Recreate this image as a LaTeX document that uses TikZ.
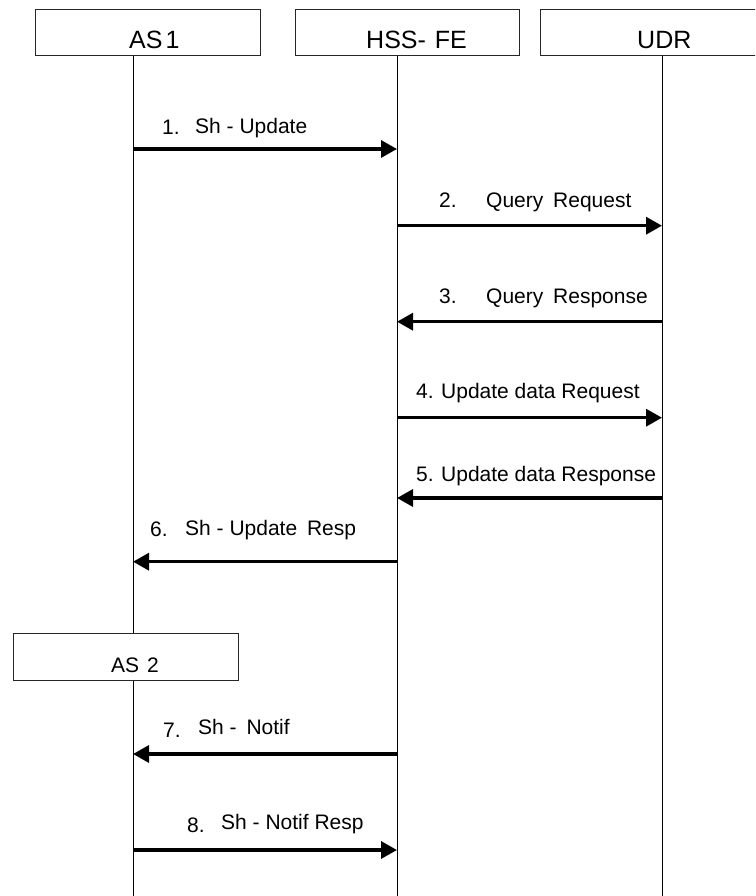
\documentclass[tikz,border=0pt]{standalone}
\usepackage{fontspec}
\setmainfont{Liberation Sans}
\usetikzlibrary{arrows.meta}
\begin{document}
\begin{tikzpicture}[x=1pt,y=-1pt,
  actor/.style={draw=black!85, line width=0.9pt, fill=white, minimum width=#1,
    minimum height=45.7pt, inner sep=0pt, anchor=north west},
  title/.style={font=\fontsize{25}{28}\selectfont, anchor=base west, inner sep=0pt},
  title2/.style={font=\fontsize{21}{24}\selectfont, anchor=base west, inner sep=0pt},
  lbl/.style={font=\fontsize{21}{24}\selectfont, anchor=base west, inner sep=0pt},
  life/.style={line width=1pt},
  msg/.style={line width=3.3pt, -{Triangle[length=16pt,width=17pt]}},
]
\useasboundingbox (0,0) rectangle (755,896);
\clip (0,0) rectangle (755,896);

% lifeline coordinates
\coordinate (l1t) at (133,55);   \coordinate (l1b) at (133,896);
\coordinate (l2t) at (397,55);   \coordinate (l2b) at (397,896);
\coordinate (l3t) at (662,55);   \coordinate (l3b) at (662,896);
\draw[life] (l1t) -- (l1b);
\draw[life] (l2t) -- (l2b);
\draw[life] (l3t) -- (l3b);

% actor boxes
\node[actor=225pt] (as1) at (35,9.3) {};
\node[actor=224pt] (hss) at (295,9.3) {};
\node[actor=240pt] (udr) at (540,9.3) {};
\node[title] (as1t) at (129,48.5) {AS\kern3pt 1};
\node[title] (hsst) at (366,48.5) {HSS- \kern2pt FE};
\node[title] (udrt) at (637,48.5) {UDR};

% AS2 box
\node[actor=225pt, minimum height=46.7pt] (as2) at (12.7,633.3) {};
\node[title2] (as2t) at (111,672.7) {AS \kern2pt 2};

% message endpoints
\coordinate (m1a) at (133,149);   \coordinate (m1b) at (397,149);
\coordinate (m2a) at (397,225.7); \coordinate (m2b) at (662,225.7);
\coordinate (m3a) at (662,321.7); \coordinate (m3b) at (397,321.7);
\coordinate (m4a) at (397,417.7); \coordinate (m4b) at (662,417.7);
\coordinate (m5a) at (662,498);   \coordinate (m5b) at (397,498);
\coordinate (m6a) at (397,561.7); \coordinate (m6b) at (133,561.7);
\coordinate (m7a) at (397,754);   \coordinate (m7b) at (133,754);
\coordinate (m8a) at (133,850);   \coordinate (m8b) at (397,850);

\draw[msg] (m1a) -- (m1b);
\draw[msg] (m2a) -- (m2b);
\draw[msg] (m3a) -- (m3b);
\draw[msg] (m4a) -- (m4b);
\draw[msg] (m5a) -- (m5b);
\draw[msg] (m6a) -- (m6b);
\draw[msg] (m7a) -- (m7b);
\draw[msg] (m8a) -- (m8b);

% labels
\node[lbl] (n1) at (162,135) {1.};
\node[lbl] (t1) at (195,133.3) {Sh - Update};
\node[lbl] (n2) at (439,207.3) {2.};
\node[lbl] (t2) at (486,207.3) {Query \kern4pt Request};
\node[lbl] (n3) at (439,303.3) {3.};
\node[lbl] (t3) at (486,303.3) {Query \kern4pt Response};
\node[lbl] (n4) at (416,398) {4.};
\node[lbl] (t4) at (441,398) {Update data Request};
\node[lbl] (n5) at (416,481.7) {5.};
\node[lbl] (t5) at (441,481.7) {Update data Response};
\node[lbl] (n6) at (150,536.7) {6.};
\node[lbl] (t6) at (185,535) {Sh - Update \kern4pt Resp};
\node[lbl] (n7) at (163,737) {7.};
\node[lbl] (t7) at (198,734) {Sh - \kern4pt Notif};
\node[lbl] (n8) at (187,832) {8.};
\node[lbl] (t8) at (221,829) {Sh - Notif Resp};
\end{tikzpicture}
\end{document}
